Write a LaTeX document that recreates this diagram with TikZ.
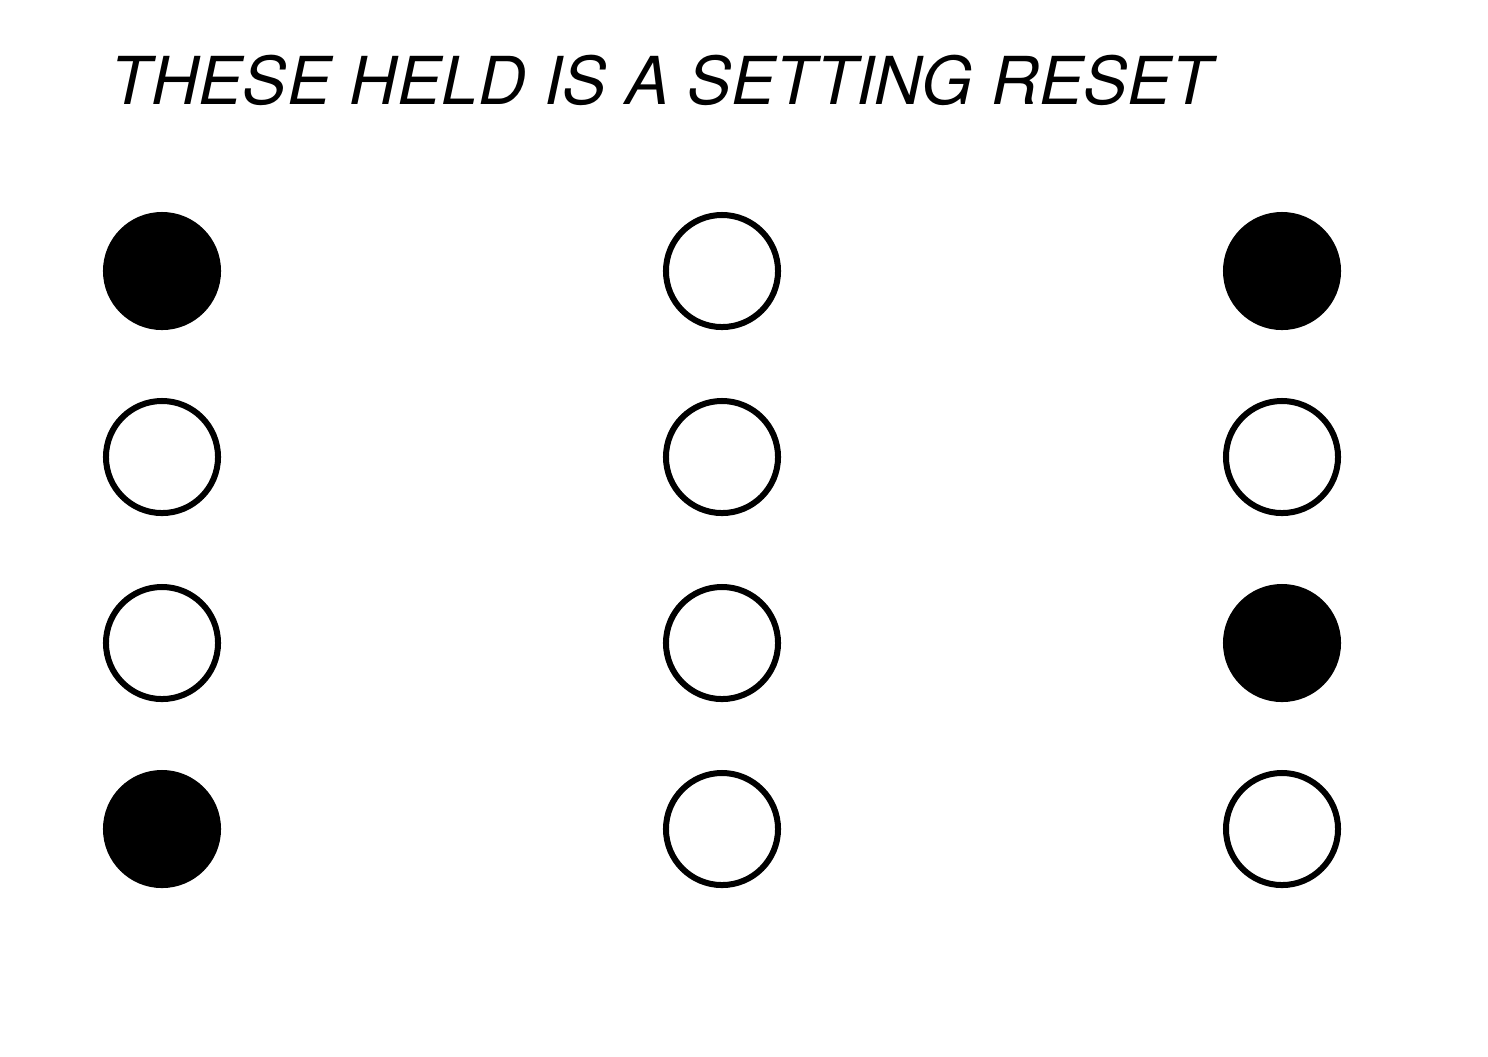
\documentclass[tikz,border=0pt]{standalone}
\usepackage{fontspec}
\setsansfont{TeX Gyre Heros}
\begin{document}
\begin{tikzpicture}[x=0.01cm, y=-0.01cm,
    hole/.style={draw, circle, line width=0.6mm, minimum size=1.12cm, inner sep=0pt},
    punched/.style={hole, fill=black},
    every node/.style={font=\sffamily}]
  \useasboundingbox (0,0) rectangle (1488,1056);
  \node[anchor=base west, inner sep=0pt, font=\sffamily\itshape\fontsize{18.8}{22}\selectfont] (title) at (110,104)
    {THESE HELD IS A SETTING RESET};
  % left column
  \node[punched] (l1) at (162,271) {};
  \node[hole]    (l2) at (162,457) {};
  \node[hole]    (l3) at (162,643) {};
  \node[punched] (l4) at (162,829) {};
  % middle column
  \node[hole] (m1) at (722,271) {};
  \node[hole] (m2) at (722,457) {};
  \node[hole] (m3) at (722,643) {};
  \node[hole] (m4) at (722,829) {};
  % right column
  \node[punched] (r1) at (1282,271) {};
  \node[hole]    (r2) at (1282,457) {};
  \node[punched] (r3) at (1282,643) {};
  \node[hole]    (r4) at (1282,829) {};
\end{tikzpicture}
\end{document}
